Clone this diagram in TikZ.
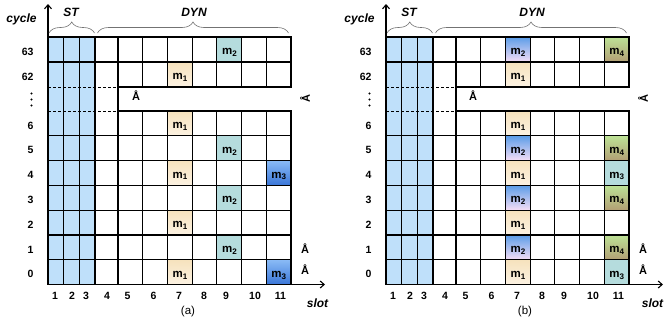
\documentclass[tikz,border=0pt]{standalone}
\usepackage{fontspec}
\setmainfont{Liberation Sans}
\usetikzlibrary{decorations.pathreplacing,arrows.meta}
\definecolor{stblue}{HTML}{BFE0FA}
\definecolor{tealc}{HTML}{B5DCDD}
\definecolor{HTML-F6E2BD}{HTML}{F6E2BD}
\definecolor{HTML-FCF2E2}{HTML}{FCF2E2}
\definecolor{HTML-8ABBF6}{HTML}{8ABBF6}
\definecolor{HTML-3A76D8}{HTML}{3A76D8}
\definecolor{HTML-5C9DE8}{HTML}{5C9DE8}
\definecolor{HTML-F6DEF6}{HTML}{F6DEF6}
\definecolor{HTML-BDE296}{HTML}{BDE296}
\definecolor{HTML-B29F74}{HTML}{B29F74}
\tikzset{
 gridline/.style={line width=1.2pt,black,line cap=rect},
 dashline/.style={line width=1pt,black,dash pattern=on 3pt off 2pt},
 axisline/.style={line width=1.1pt,black,-{Straight Barb[length=4pt,width=7pt]}},
 bracestyle/.style={draw=black!55,line width=0.6pt,decorate,decoration={brace,amplitude=11pt}},
 rowlbl/.style={font=\fontsize{10.5}{12}\selectfont\bfseries,anchor=east,inner sep=0pt},
 collbl/.style={font=\fontsize{10.5}{12}\selectfont\bfseries,inner sep=0pt},
 axlbl/.style={font=\fontsize{12}{14}\selectfont\bfseries\itshape,inner sep=0pt},
 caplbl/.style={font=\fontsize{11.5}{13}\selectfont,inner sep=0pt},
 glyph/.style={font=\fontsize{11}{13}\selectfont\bfseries,inner sep=0pt},
 mlbl/.style={font=\fontsize{11.5}{13}\selectfont\bfseries,inner sep=0pt,anchor=base west},
 mone/.style={top color=HTML-F6E2BD,bottom color=HTML-FCF2E2},
 mtwoa/.style={fill=tealc},
 mthreea/.style={top color=HTML-8ABBF6,bottom color=HTML-3A76D8},
 mtwob/.style={top color=HTML-5C9DE8,bottom color=HTML-F6DEF6},
 mfourb/.style={top color=HTML-BDE296,bottom color=HTML-B29F74},
 mthreeb/.style={fill=tealc},
 dotmark/.style={fill=black},
}

% #1 col, #2 row (63, 62 or 0..6), #3 style, #4 subscript, #5 node name
\newcommand\mcell[5]{%
 \pgfmathsetmacro\mcxl{#1<=3 ? 48+(#1-1)*15.667 : (#1==4 ? 95 : 118+(#1-5)*24.714)}%
 \pgfmathsetmacro\mcxr{#1<=2 ? 48+#1*15.667 : (#1==3 ? 95 : (#1==4 ? 118 : 118+(#1-4)*24.714))}%
 \pgfmathsetmacro\mcyt{#2==63 ? 37 : (#2==62 ? 62 : 284.5-(#2+1)*24.786)}%
 \pgfmathsetmacro\mcyb{\mcyt+(#2>=62 ? 25 : 24.786)}%
 \path[#3] (\mcxl,\mcyt) rectangle (\mcxr,\mcyb);
 \node[mlbl] (#5) at (\mcxl+5,\mcyt+17.5) {m\textsubscript{#4}};
}

% #1 suffix, #2 gap glyph x, #3 right glyph x, #4 slot x
\newcommand\gridlines[4]{%
 \foreach \y in {37,62} \draw[gridline] (48,\y) -- (291,\y);
 \foreach \y in {87,111} {\draw[dashline] (48,\y) -- (118,\y); \draw[gridline] (118,\y) -- (291,\y);}
 \foreach \k in {1,...,7} \draw[gridline] (48,{111+\k*24.786}) -- (291,{111+\k*24.786});
 \foreach \x in {48,63.667,79.333,95,118,142.714,167.429,192.143,216.857,241.571,266.286,291}
  {\draw[gridline] (\x,37) -- (\x,87); \draw[gridline] (\x,111) -- (\x,284.5);}
 \foreach \x in {48,63.667,79.333,95,118} \draw[gridline] (\x,87) -- (\x,111);
 % axes
 \coordinate (o-#1) at (48,284.5);
 \coordinate (ytip-#1) at (48,4);
 \coordinate (xtip-#1) at (325,284.5);
 \draw[axisline] (o-#1) -- (ytip-#1);
 \draw[axisline] (o-#1) -- (xtip-#1);
 % braces
 \coordinate (stl-#1) at (49,33); \coordinate (str-#1) at (94.5,33);
 \coordinate (dyl-#1) at (97.5,33); \coordinate (dyr-#1) at (288.5,33);
 \draw[bracestyle] (stl-#1) -- (str-#1);
 \draw[bracestyle] (dyl-#1) -- (dyr-#1);
 \node[axlbl] (st-#1) at (71,12) {ST};
 \node[axlbl] (dyn-#1) at (194,12) {DYN};
 \node[axlbl] (cycle-#1) at (21.5,19.5) {cycle};
 \node[axlbl] (slot-#1) at (#4,303) {slot};
 % row labels
 \node[rowlbl] (r63-#1) at (33.7,51.5) {63};
 \node[rowlbl] (r62-#1) at (33.7,76.5) {62};
 \foreach \r in {0,...,6} \node[rowlbl] (r\r-#1) at (33.7,{284.5-(\r+0.5)*24.786+2.2}) {\r};
 \fill[dotmark] (31.5,93.5) circle (1.1pt) (31.5,99.5) circle (1.1pt) (31.5,105.5) circle (1.1pt);
 % column labels
 \foreach \c/\x in {1/55,2/72,3/86,4/107,5/127.5,6/153.5,7/179,8/204,9/226,10/255,11/280.5}
  \node[collbl] (c\c-#1) at (\x,295.5) {\c};
 % glyphs
 \node[glyph] (ga-#1) at (#2,95.5) {Å};
 \node[glyph,rotate=90] (gb-#1) at (#3,99) {Å};
 \node[glyph] (gc-#1) at (#3,249) {Å};
 \node[glyph] (gd-#1) at (#3,270) {Å};
}

\begin{document}
\begin{tikzpicture}[x=1pt,y=-1pt]
\useasboundingbox (0,0) rectangle (664,325);
\fill[white] (0,0) rectangle (664,325);

% ---------- panel (a)
\begin{scope}
\fill[stblue] (48,37) rectangle (95,284.5);
\mcell{9}{63}{mtwoa}{2}{a63m2}
\mcell{7}{62}{mone}{1}{a62m1}
\mcell{7}{6}{mone}{1}{a6m1}
\mcell{9}{5}{mtwoa}{2}{a5m2}
\mcell{7}{4}{mone}{1}{a4m1}
\mcell{11}{4}{mthreea}{3}{a4m3}
\mcell{9}{3}{mtwoa}{2}{a3m2}
\mcell{7}{2}{mone}{1}{a2m1}
\mcell{9}{1}{mtwoa}{2}{a1m2}
\mcell{7}{0}{mone}{1}{a0m1}
\mcell{11}{0}{mthreea}{3}{a0m3}
\gridlines{a}{136}{305}{317.5}
\node[caplbl] (cap-a) at (188,311.5) {(a)};
\end{scope}

% ---------- panel (b)
\begin{scope}[xshift=338pt]
\fill[stblue] (48,37) rectangle (95,284.5);
\mcell{7}{63}{mtwob}{2}{b63m2}
\mcell{11}{63}{mfourb}{4}{b63m4}
\mcell{7}{62}{mone}{1}{b62m1}
\mcell{7}{6}{mone}{1}{b6m1}
\mcell{7}{5}{mtwob}{2}{b5m2}
\mcell{11}{5}{mfourb}{4}{b5m4}
\mcell{7}{4}{mone}{1}{b4m1}
\mcell{11}{4}{mthreeb}{3}{b4m3}
\mcell{7}{3}{mtwob}{2}{b3m2}
\mcell{11}{3}{mfourb}{4}{b3m4}
\mcell{7}{2}{mone}{1}{b2m1}
\mcell{7}{1}{mtwob}{2}{b1m2}
\mcell{11}{1}{mfourb}{4}{b1m4}
\mcell{7}{0}{mone}{1}{b0m1}
\mcell{11}{0}{mthreeb}{3}{b0m3}
\gridlines{b}{135}{305}{314.5}
\node[caplbl] (cap-b) at (187,311.5) {(b)};
\end{scope}
\end{tikzpicture}
\end{document}
